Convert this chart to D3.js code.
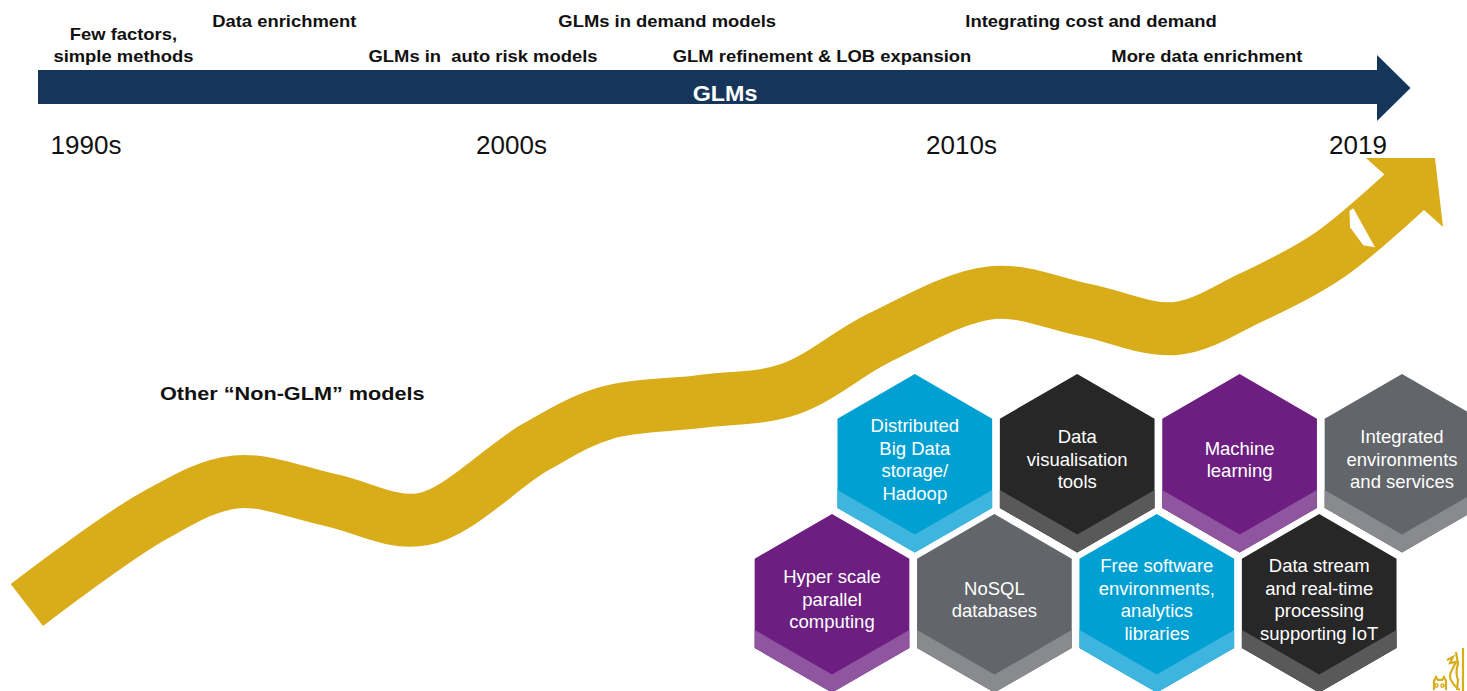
<!DOCTYPE html>
<html>
<head>
<meta charset="utf-8">
<script src="https://cdn.jsdelivr.net/npm/d3@7"></script>
<style>
  html, body { margin: 0; padding: 0; background: #fff; }
  svg { display: block; }
  text { font-family: "Liberation Sans", Arial, Helvetica, sans-serif; white-space: pre; }
</style>
</head>
<body>
<svg id="chart" width="1467" height="691"></svg>
<script>
// ---- Timeline data ----
const decadeLabels = ["1990s", "2000s", "2010s", "2019"];
const decadeYears  = [1990, 2000, 2010, 2019];

// GLM milestones above the timeline arrow (approximate year, text row: 0 = upper, 1 = lower)
const milestoneLabels = [
  ["Few factors,", "simple methods"],
  ["Data enrichment"],
  ["GLMs in  auto risk models"],
  ["GLMs in demand models"],
  ["GLM refinement & LOB expansion"],
  ["Integrating cost and demand"],
  ["More data enrichment"]
];
const milestoneYears = [1990.88, 1994.66, 1999.33, 2003.46, 2006.9, 2012.94, 2015.57];
const milestoneRows  = [1, 0, 1, 0, 1, 0, 1];

// Growth of "Non-GLM" models: [year, relative level 0-100]
const nonGlmYears  = [1988.61, 1991.62, 1993.53, 1995.74, 1997.91, 2000.53, 2002.1, 2004.2,
                      2006.18, 2008.2, 2010.7, 2012.81, 2014.85, 2016.55, 2018.36, 2020.13];
const nonGlmLevels = [0, 21.8, 29.9, 25.5, 20.8, 38.3, 46.6, 49.4,
                      52.4, 65.0, 75.8, 71.6, 67.1, 74.5, 85.0, 101.0];

// Enabling technologies (honeycomb)
const techLabels = [
  ["Distributed", "Big Data", "storage/", "Hadoop"],
  ["Data", "visualisation", "tools"],
  ["Machine", "learning"],
  ["Integrated", "environments", "and services"],
  ["Hyper scale", "parallel", "computing"],
  ["NoSQL", "databases"],
  ["Free software", "environments,", "analytics", "libraries"],
  ["Data stream", "and real-time", "processing", "supporting IoT"]
];
const techFamily = ["blue", "black", "purple", "gray", "purple", "gray", "blue", "black"];
const techRow    = [0, 0, 0, 0, 1, 1, 1, 1];
const techCol    = [0, 1, 2, 3, 0, 1, 2, 3];

// ---- Styles ----
const palette = {
  blue:   { main: "#00A0D2", band: "#3EB5DE" },
  black:  { main: "#272727", band: "#595959" },
  purple: { main: "#6C1F80", band: "#8F559F" },
  gray:   { main: "#626569", band: "#898A8D" }
};
const NAVY = "#15355A";
const GOLD = "#D9AC1A";

const svg = d3.select("#chart");

// Year -> x position along the timeline
const x = d3.scaleLinear().domain(decadeYears).range([86, 511.5, 961.5, 1358]);
// Relative level -> y for the non-GLM trend
const level = d3.scaleLinear().domain([0, 100]).range([605, 193]);
// Milestone text rows -> baseline
const rowY = d3.scaleOrdinal().domain([0, 1]).range([27, 61.7]);

// ---- Non-GLM trend ribbon ----
const trendPts = nonGlmYears.map((yr, i) => [x(yr), level(nonGlmLevels[i])]);
const ribbon = d3.line().curve(d3.curveCatmullRom.alpha(0.5));
svg.append("path")
  .attr("d", ribbon(trendPts))
  .attr("fill", "none")
  .attr("stroke", GOLD)
  .attr("stroke-width", 53)
  .attr("stroke-linecap", "butt");

// Arrow head at the end of the ribbon
svg.append("path")
  .attr("d", "M1366,158 L1435,158 L1443,227 Z")
  .attr("fill", GOLD);
// Small cut in the ribbon near the head
svg.append("path")
  .attr("d", "M1349.5,210.7 L1353.3,208.3 L1375,247.3 L1363.3,245.3 L1350,227.3 Z")
  .attr("fill", "#fff");

svg.append("text")
  .attr("transform", "translate(160,400) scale(1.14,1)")
  .attr("font-size", 19)
  .attr("font-weight", "bold")
  .attr("fill", "#111")
  .text("Other \u201CNon-GLM\u201D models");

// ---- GLM timeline arrow ----
svg.append("rect")
  .attr("x", 38).attr("y", 70)
  .attr("width", 1378 - 38).attr("height", 34)
  .attr("fill", NAVY);
svg.append("path")
  .attr("d", "M1377,55 L1410.5,88 L1377,121 Z")
  .attr("fill", NAVY);
svg.append("text")
  .attr("transform", "translate(725,101) scale(1.06,1)")
  .attr("text-anchor", "middle")
  .attr("font-size", 22)
  .attr("font-weight", "bold")
  .attr("fill", "#fff")
  .text("GLMs");

// Decade labels
svg.append("g").selectAll("text")
  .data(decadeLabels)
  .join("text")
  .attr("x", (d, i) => x(decadeYears[i]))
  .attr("y", 154)
  .attr("text-anchor", "middle")
  .attr("font-size", 26)
  .attr("fill", "#111")
  .text(d => d);

// Milestones
const ms = svg.append("g").selectAll("g")
  .data(milestoneLabels)
  .join("g")
  .attr("transform", (d, i) => `translate(${x(milestoneYears[i])},${rowY(milestoneRows[i])}) scale(1.083,1)`);
ms.selectAll("text")
  .data(d => d.map((t, j) => ({ t, k: d.length - 1 - j })))
  .join("text")
  .attr("y", d => -d.k * 21.7)
  .attr("text-anchor", "middle")
  .attr("font-size", 17)
  .attr("font-weight", "bold")
  .attr("fill", "#111")
  .text(d => d.t);

// ---- Technology honeycomb ----
const R = 89.3;                    // hexagon circumradius
const W = Math.sqrt(3) * R;        // flat-to-flat width
const BAND = 18;                   // lighter lower band
const hexX = d3.scaleLinear().domain([0, 1]).range([832, 832 + 162.4]);
const hexY = d3.scaleOrdinal().domain([0, 1]).range([463.3, 603.3]);
const rowShift = 82.8;

const hexes = svg.append("g").selectAll("g")
  .data(techLabels)
  .join("g")
  .attr("transform", (d, i) => {
    const cx = hexX(techCol[i]) + (techRow[i] === 0 ? rowShift : 0);
    return `translate(${cx},${hexY(techRow[i])})`;
  });

const hexPoints = d3.range(6).map(k => {
  const a = (Math.PI / 180) * (-90 + 60 * k);
  return [R * Math.cos(a), R * Math.sin(a)];
});
hexes.append("path")
  .attr("d", d3.line()(hexPoints) + "Z")
  .attr("fill", (d, i) => palette[techFamily[i]].main);
hexes.append("path")
  .attr("d", d3.line()([
    [-W / 2, R / 2], [0, R], [W / 2, R / 2],
    [W / 2, R / 2 - BAND], [0, R - BAND], [-W / 2, R / 2 - BAND]
  ]) + "Z")
  .attr("fill", (d, i) => palette[techFamily[i]].band);

const LH = 22.5;
hexes.selectAll("text")
  .data(d => d.map((t, j) => ({ t, off: (j - (d.length - 1) / 2) * LH })))
  .join("text")
  .attr("x", 0)
  .attr("y", d => -4 + 6.6 + d.off)
  .attr("text-anchor", "middle")
  .attr("font-size", 18.5)
  .attr("fill", "#fff")
  .text(d => d.t);

// ---- Corner crest ----
const crest = svg.append("g").attr("fill", "none").attr("stroke", GOLD).attr("stroke-width", 2.2);
crest.append("path").attr("d", "M1434,690 L1434,681 L1436,677 L1438,680 L1442,680 L1444,677 L1446,681 L1446,690");
crest.append("path").attr("d", "M1436.5,684 a1.6,1.6 0 1,0 0.1,0 M1442.5,684 a1.6,1.6 0 1,0 0.1,0").attr("stroke-width", 1.4);
crest.append("path").attr("d", "M1447,660 L1453,657 L1450,663 L1456,662 L1452,670 Q1448,676 1452,682 Q1456,688 1460,690");
crest.append("path").attr("d", "M1456,652 L1458,664 Q1455,672 1458,680 L1457,690");
crest.append("path").attr("d", "M1463,648 L1463,691");
</script>
</body>
</html>
